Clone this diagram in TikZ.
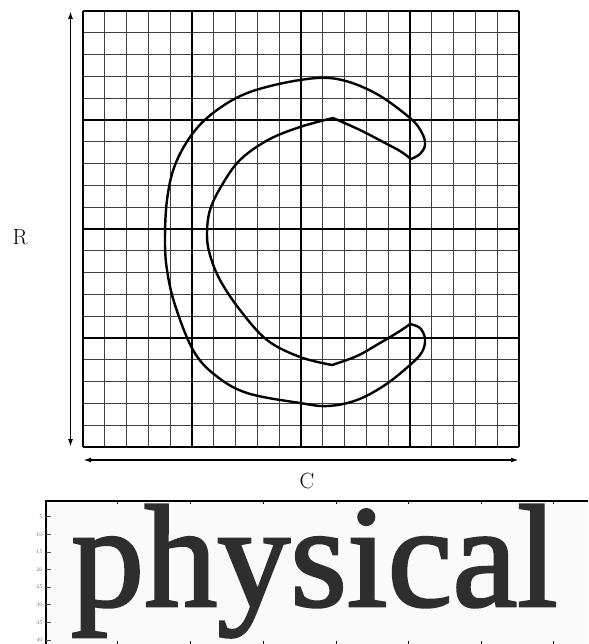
\documentclass[tikz,border=0pt]{standalone}
\usepackage{fontspec}
\newfontfamily\physfont[FakeBold=1.8]{Liberation Serif}
\usetikzlibrary{arrows.meta}
\tikzset{
  minorline/.style={line width=0.8pt, black!75},
  majorline/.style={line width=1.3pt, black},
  axisarrow/.style={line width=1.8pt, {Latex[length=8pt,width=5pt]}-{Latex[length=8pt,width=5pt]}},
  curve/.style={line width=2.4pt, line join=round, line cap=round},
  lab/.style={font=\fontsize{22}{22}\selectfont, inner sep=0pt},
  ticklab/.style={font=\fontsize{5.5}{5.5}\selectfont, text=black!55, anchor=east, inner sep=0pt},
  tick/.style={line width=0.8pt}
}
\begin{document}
\begin{tikzpicture}[x=1pt,y=-1pt]
\useasboundingbox (0,0) rectangle (588,644);
% grid
\foreach \i in {0,...,20}{
  \pgfmathsetmacro\xx{83+\i*21.8}
  \pgfmathsetmacro\yy{11+\i*21.8}
  \draw[minorline] (\xx,11) -- (\xx,447);
  \draw[minorline] (83,\yy) -- (519,\yy);
}
\foreach \i in {0,5,10,15,20}{
  \pgfmathsetmacro\xx{83+\i*21.8}
  \pgfmathsetmacro\yy{11+\i*21.8}
  \draw[majorline] (\xx,11) -- (\xx,447);
  \draw[majorline] (83,\yy) -- (519,\yy);
}
% axes
\coordinate (vtop) at (70.5,11);
\coordinate (vbot) at (70.5,447);
\coordinate (hleft) at (83,460);
\coordinate (hright) at (519,460);
\draw[axisarrow] (vtop) -- (vbot);
\draw[axisarrow] (hleft) -- (hright);
\node[lab] (R) at (20,237) {R};
\node[lab] (C) at (307,481) {C};
% C shape
\draw[curve] plot[smooth, tension=0.6] coordinates {(411,159) (420,154) (425,145) (422,133) (410,118) (375,93) (337,79) (300,80) (250,92) (217,110) (193,133) (175,165) (167,200) (165,240) (167,270) (175,305) (193,350) (215,375) (247,393) (300,403) (328,406) (357,400) (385,385) (410,365) (422,352) (425,339) (420,328) (410,324)}
  -- plot[smooth, tension=0.6] coordinates {(410,324) (400,331) (380,343) (357,356) (332,365)}
  -- plot[smooth, tension=0.6] coordinates {(332,365) (300,357) (267,340) (240,310) (220,280) (210,255) (207,235) (210,210) (222,185) (240,160) (268,140) (300,127) (333,118)}
  -- plot[smooth, tension=0.6] coordinates {(333,118) (360,130) (385,143) (400,151) (411,159)};
% bottom image
\fill[black!2] (46,501) rectangle (588,644);
\node[inner sep=0pt, anchor=base west] (word) at (71,606) {\physfont\color{black!82}\fontsize{146}{146}\selectfont physical};
\draw[line width=1.2pt] (588,501) -- (46,501) -- (46,644);
\foreach \x in {117,190,263,336,408,481,553}{
  \draw[tick] (\x,501) -- (\x,504);
  \draw[tick] (\x,644) -- (\x,641);
}
\foreach \v [count=\k from 0] in {5,10,15,20,25,30,35,40}{
  \pgfmathsetmacro\yy{516.7+\k*17.6}
  \draw[tick, black!70] (46,\yy) -- (51,\yy);
  \node[ticklab] (t\k) at (43,\yy) {\v};
}
\end{tikzpicture}
\end{document}
